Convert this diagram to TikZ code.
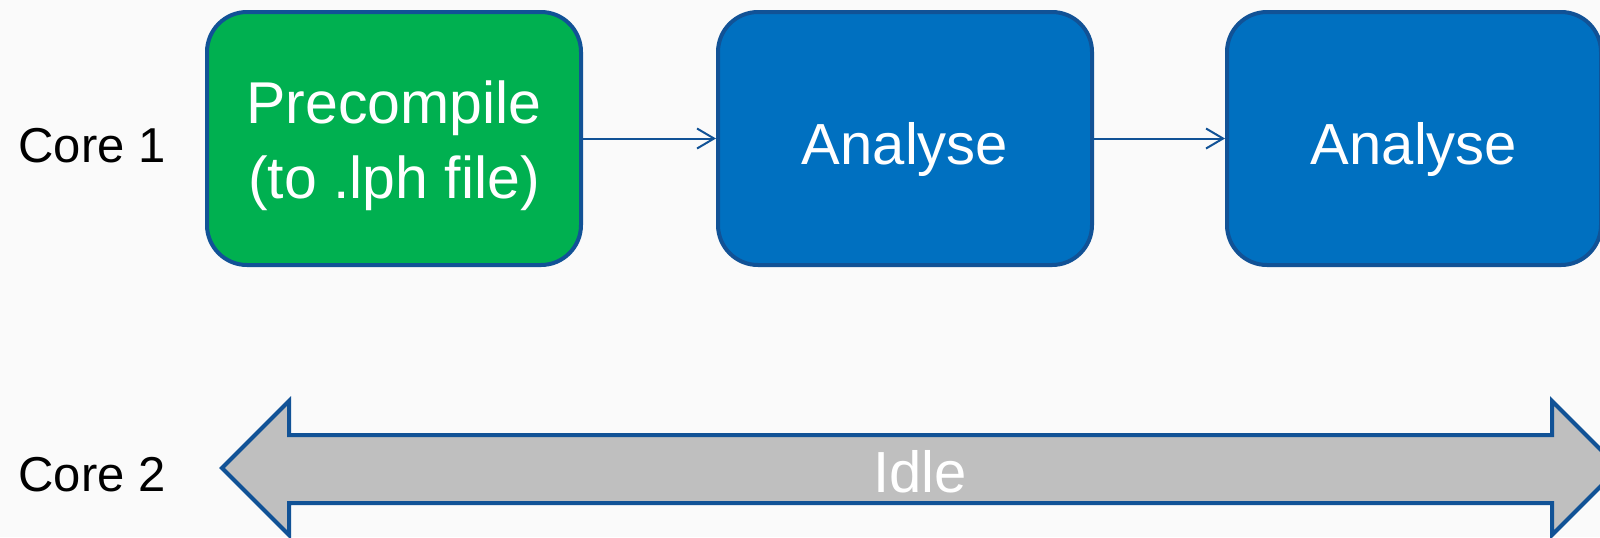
\documentclass[tikz,border=0pt]{standalone}
\usepackage{fontspec}
\setmainfont{Liberation Sans}
\usetikzlibrary{arrows.meta}
\definecolor{boxgreen}{RGB}{0,176,80}
\definecolor{boxblue}{RGB}{0,112,192}
\definecolor{edge}{RGB}{17,82,150}
\definecolor{idlegray}{RGB}{191,191,191}
\begin{document}
\begin{tikzpicture}[x=0.5pt,y=-0.5pt,>={Straight Barb[length=8.5pt,width=10pt]},every node/.style={font=\fontsize{24.5pt}{30pt}\selectfont},task/.style={draw=edge,line width=2pt,rounded corners=20pt,minimum width=187pt,minimum height=126.5pt,align=center,text=white,font=\fontsize{29pt}{37.5pt}\selectfont,text height=27pt,text depth=1pt},flow/.style={->,edge,line width=1pt},core/.style={anchor=west,inner sep=0pt}]
\fill[black!2] (0,0) rectangle (1600,537);
\useasboundingbox (0,0) rectangle (1600,537);
\node[core] (core1) at (18,146) {Core 1};\node[core] (core2) at (18,475) {Core 2};
\node[task,fill=boxgreen,font=\fontsize{29.5pt}{37.5pt}\selectfont,text height=60pt,text depth=0pt] (pre) at (394,138.5) {Precompile\\(to .lph file)};
\node[task,fill=boxblue] (ana1) at (905,138.5) {Analyse};
\node[task,fill=boxblue] (ana2) at (1414,138.5) {Analyse};
\draw[flow] (pre)--(ana1);\draw[flow] (ana1)--(ana2);
% idle double arrow, right tip runs off the page
\draw[edge,line width=2pt,fill=idlegray,line join=miter] (222,468)--(289,401)--(289,435)--(1552,435)--(1552,401)--(1619,468)--(1552,535)--(1552,503)--(289,503)--(289,535)--cycle;
\node[text=white,font=\fontsize{29pt}{35pt}\selectfont] (idle) at (920,472) {Idle};
\end{tikzpicture}
\end{document}
